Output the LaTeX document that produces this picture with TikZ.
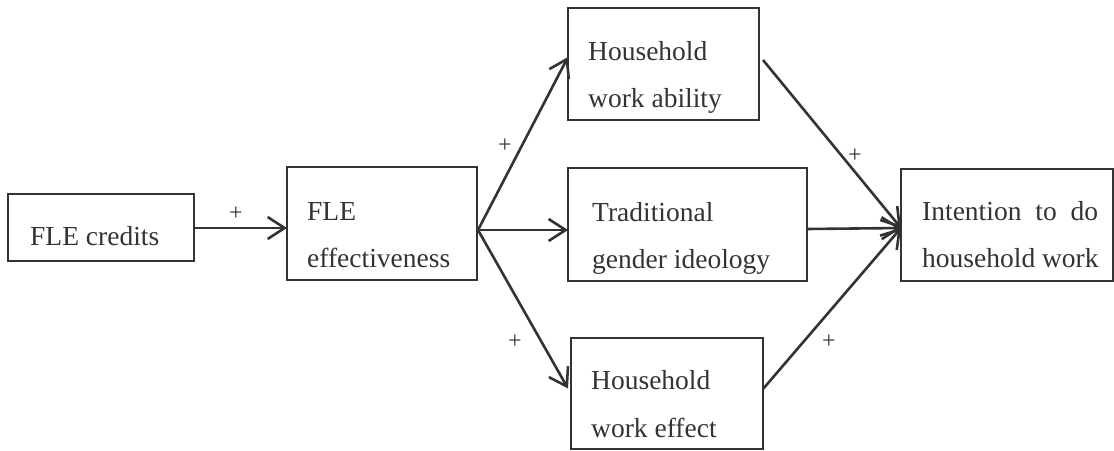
\documentclass[tikz,border=0pt]{standalone}
\usepackage{fontspec}
\setmainfont{Liberation Serif}
\usetikzlibrary{arrows.meta}
\definecolor{ink}{HTML}{333333}
\tikzset{
  box/.style={draw=ink, line width=1.5pt, anchor=north west, inner sep=0pt, outer sep=0pt},
  lbl/.style={anchor=base west, inner sep=0pt, text=ink, font=\fontsize{27.5}{27.5}\selectfont},
  plus/.style={inner sep=0pt, text=ink, font=\fontsize{24}{24}\selectfont},
  arr/.style={draw=ink, line width=2.6pt, -{Straight Barb[length=17pt,width=22pt,line width=2.6pt]}},
  conn/.style={draw=ink, line width=2.6pt}
}
\begin{document}
\begin{tikzpicture}[x=1pt,y=-1pt]
\useasboundingbox (0,0) rectangle (1114,450);
% boxes
\node[box, minimum width=186pt, minimum height=67pt] (credits) at (8,194) {};
\node[box, minimum width=190pt, minimum height=113pt] (eff) at (287,167) {};
\node[box, minimum width=191pt, minimum height=112pt] (ability) at (568,8) {};
\node[box, minimum width=239pt, minimum height=113pt] (trad) at (568,168) {};
\node[box, minimum width=192pt, minimum height=111pt] (effect) at (571,338) {};
\node[box, minimum width=212pt, minimum height=112pt] (intent) at (901,169) {};
% texts
\node[lbl] (t1) at (30,245) {FLE credits};
\node[lbl] (t2a) at (307,220) {FLE};
\node[lbl] (t2b) at (307,267) {effectiveness};
\node[lbl] (t3a) at (588,60) {Household};
\node[lbl] (t3b) at (588,107) {work ability};
\node[lbl] (t4a) at (592,221) {Traditional};
\node[lbl] (t4b) at (592,268) {gender ideology};
\node[lbl] (t5a) at (591,389) {Household};
\node[lbl] (t5b) at (591,437) {work effect};
\node[lbl] (t6a) at (922,220) {\makebox[176pt][s]{Intention to do}};
\node[lbl] (t6b) at (922,267) {household work};
% connectors
\coordinate (fork) at (478,230);
\draw[arr] ([yshift=-0.5pt]credits.east) -- ([yshift=-0.5pt]credits.east -| eff.west);
\draw[conn] (eff.east |- fork) -- (fork);
\draw[arr] (fork) -- ([yshift=7pt]ability.west);
\draw[arr] (fork) -- (fork -| trad.west);
\draw[arr] (fork) -- ([shift={(-3pt,5pt)}]effect.west);
\draw[arr] ([shift={(4pt,4pt)}]ability.east) -- ([yshift=-3pt]intent.west);
\draw[arr] ([yshift=-4.5pt]trad.east) -- ([yshift=-3pt]intent.west);
\draw[arr] ([yshift=4.5pt]effect.east) -- ([yshift=-3pt]intent.west);
% signs
\node[plus] (p1) at (236,214) {+};
\node[plus] (p2) at (505,146) {+};
\node[plus] (p3) at (515,342) {+};
\node[plus] (p4) at (855,156) {+};
\node[plus] (p5) at (829,342) {+};
\end{tikzpicture}
\end{document}
